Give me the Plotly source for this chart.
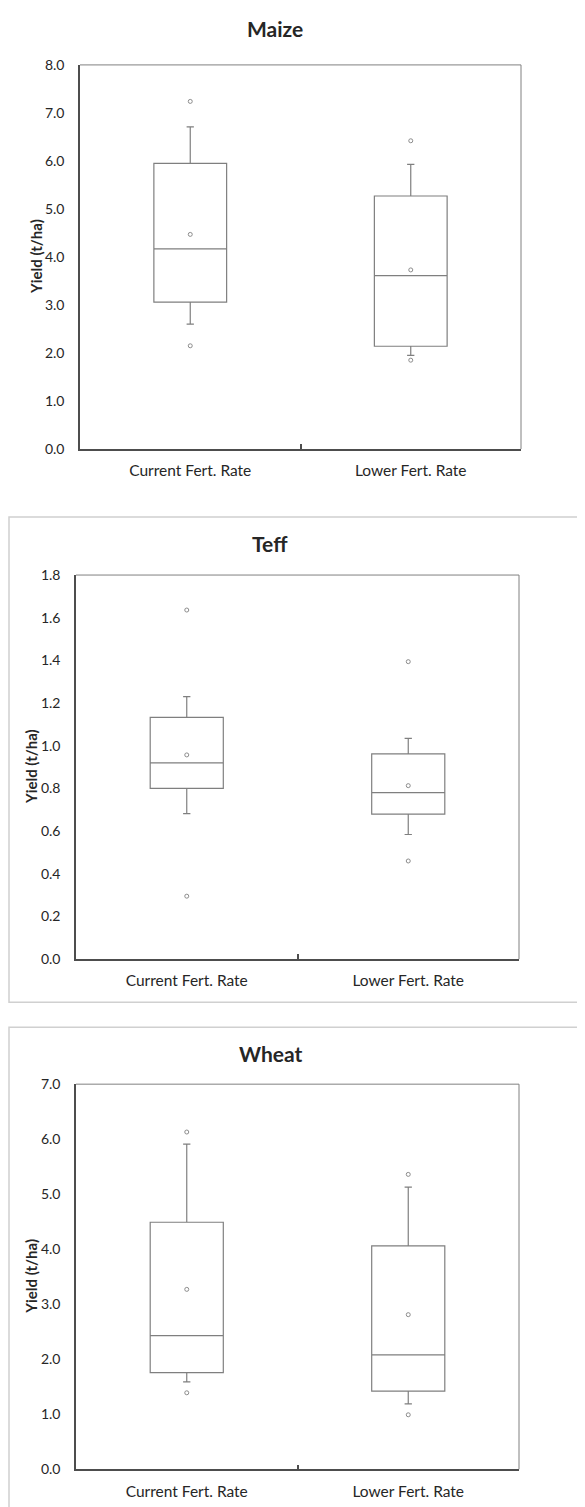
import plotly.graph_objects as go

# Page/photo calibration: the figure sits inside an 8px body margin; measured
# photo mapping is  x_photo = 8 + x_fig,  y_photo = 16.1 + 0.9885 * y_fig.
W, H = 569, 1510
X_OFF = 8.0
Y_OFF, Y_SCALE = 16.1, 0.9885

# ---------------- data ----------------
categories = ["Current Fert. Rate", "Lower Fert. Rate"]
crops = ["Maize", "Teff", "Wheat"]

maize_q1 = [3.06, 2.14]
maize_median = [4.17, 3.61]
maize_q3 = [5.95, 5.27]
maize_lowerfence = [2.60, 1.95]
maize_upperfence = [6.71, 5.93]
maize_mean = [4.47, 3.73]
maize_min = [2.15, 1.85]
maize_max = [7.24, 6.42]

teff_q1 = [0.80, 0.68]
teff_median = [0.92, 0.78]
teff_q3 = [1.133, 0.962]
teff_lowerfence = [0.682, 0.584]
teff_upperfence = [1.23, 1.035]
teff_mean = [0.957, 0.813]
teff_min = [0.295, 0.46]
teff_max = [1.636, 1.394]

wheat_q1 = [1.756, 1.42]
wheat_median = [2.43, 2.08]
wheat_q3 = [4.49, 4.06]
wheat_lowerfence = [1.59, 1.19]
wheat_upperfence = [5.91, 5.13]
wheat_mean = [3.27, 2.81]
wheat_min = [1.39, 0.99]
wheat_max = [6.13, 5.36]

y_ranges = [(0, 8), (0, 1.8), (0, 7)]
y_dticks = [1.0, 0.2, 1.0]

stats = [
    (maize_q1, maize_median, maize_q3, maize_lowerfence, maize_upperfence, maize_mean, maize_min, maize_max),
    (teff_q1, teff_median, teff_q3, teff_lowerfence, teff_upperfence, teff_mean, teff_min, teff_max),
    (wheat_q1, wheat_median, wheat_q3, wheat_lowerfence, wheat_upperfence, wheat_mean, wheat_min, wheat_max),
]

# ---------------- layout geometry (target photo pixels) ----------------
panels = [
    dict(x0=80, x1=521, y0=64, y1=448, tx=275, ty=28, yt=36),
    dict(x0=76, x1=519, y0=574, y1=958, tx=270, ty=542, yt=31),
    dict(x0=76, x1=519, y0=1083, y1=1468, tx=270, ty=1052, yt=31),
]

FONT = "Lato, 'Open Sans', sans-serif"
TXT = "#262626"
BOXC = "#7f7f7f"
MARKC = "#8c8c8c"
AXC = "#4d4d4d"

def px(x):
    return (x - X_OFF) / W

def py(y):
    return 1 - ((y - Y_OFF) / Y_SCALE) / H

fig = go.Figure()
shapes = []
annotations = []
layout_axes = {}

for i, (crop, st, pnl) in enumerate(zip(crops, stats, panels)):
    q1, med, q3, lf, uf, mean, mn, mx = st
    n = "" if i == 0 else str(i + 1)
    xa, ya = "x" + n, "y" + n
    fig.add_trace(go.Box(
        x=categories, q1=q1, median=med, q3=q3,
        lowerfence=lf, upperfence=uf,
        width=0.33, whiskerwidth=0.1,
        fillcolor="rgba(255,255,255,0)",
        line=dict(color=BOXC, width=1.2),
        boxpoints=False, showlegend=False, name=crop,
        xaxis=xa, yaxis=ya,
    ))
    pts_x = categories * 3
    pts_y = list(mean) + list(mn) + list(mx)
    fig.add_trace(go.Scatter(
        x=pts_x, y=pts_y, mode="markers",
        marker=dict(symbol="circle-open", size=4, color=MARKC, line=dict(width=1, color=MARKC)),
        showlegend=False, xaxis=xa, yaxis=ya, name=crop + " points",
    ))
    layout_axes["xaxis" + n] = dict(
        domain=[px(pnl["x0"]), px(pnl["x1"])],
        anchor=ya, type="category", range=[-0.5, 1.5],
        showline=True, linecolor=AXC, linewidth=1.5,
        ticks="inside", tickson="boundaries", ticklen=5, tickcolor=AXC, tickwidth=1.5,
        showgrid=False, zeroline=False,
        tickfont=dict(family=FONT, size=15.5, color=TXT),
        ticklabelstandoff=7,
    )
    lo, hi = y_ranges[i]
    layout_axes["yaxis" + n] = dict(
        domain=[py(pnl["y1"]), py(pnl["y0"])],
        anchor=xa, range=[lo, hi], dtick=y_dticks[i], tick0=0,
        tickformat=".1f",
        showline=True, linecolor=AXC, linewidth=1.5,
        ticks="", showgrid=False, zeroline=False,
        tickfont=dict(family=FONT, size=14, color=TXT),
        ticklabelstandoff=11,
    )
    # top and right frame lines
    shapes.append(dict(type="line", xref="paper", yref="paper",
                       x0=px(pnl["x0"]), x1=px(pnl["x1"]), y0=py(pnl["y0"]), y1=py(pnl["y0"]),
                       line=dict(color="#808080", width=1)))
    shapes.append(dict(type="line", xref="paper", yref="paper",
                       x0=px(pnl["x1"]), x1=px(pnl["x1"]), y0=py(pnl["y0"]), y1=py(pnl["y1"]),
                       line=dict(color="#808080", width=1)))
    annotations.append(dict(text="<b>" + crop + "</b>", x=px(pnl["tx"]), y=py(pnl["ty"]),
                            xref="paper", yref="paper", showarrow=False,
                            xanchor="center", yanchor="middle",
                            font=dict(family=FONT, size=21, color=TXT)))
    annotations.append(dict(text="<b>Yield (t/ha)</b>", x=px(pnl["yt"]),
                            y=py((pnl["y0"] + pnl["y1"]) / 2),
                            xref="paper", yref="paper", showarrow=False, textangle=-90,
                            xanchor="center", yanchor="middle",
                            font=dict(family=FONT, size=15, color=TXT)))

# panel borders
shapes.append(dict(type="rect", xref="paper", yref="paper", x0=px(9), x1=px(640), y0=py(1001), y1=py(516),
                   line=dict(color="#d0d0d0", width=1.5)))
shapes.append(dict(type="rect", xref="paper", yref="paper", x0=px(9), x1=px(640), y0=py(1560), y1=py(1026),
                   line=dict(color="#d0d0d0", width=1.5)))

fig.update_layout(
    width=W, height=H, autosize=False,
    margin=dict(l=0, r=0, t=0, b=0),
    paper_bgcolor="white", plot_bgcolor="white",
    shapes=shapes, annotations=annotations,
    boxmode="overlay",
    **layout_axes,
)

fig.write_html("out.html")
